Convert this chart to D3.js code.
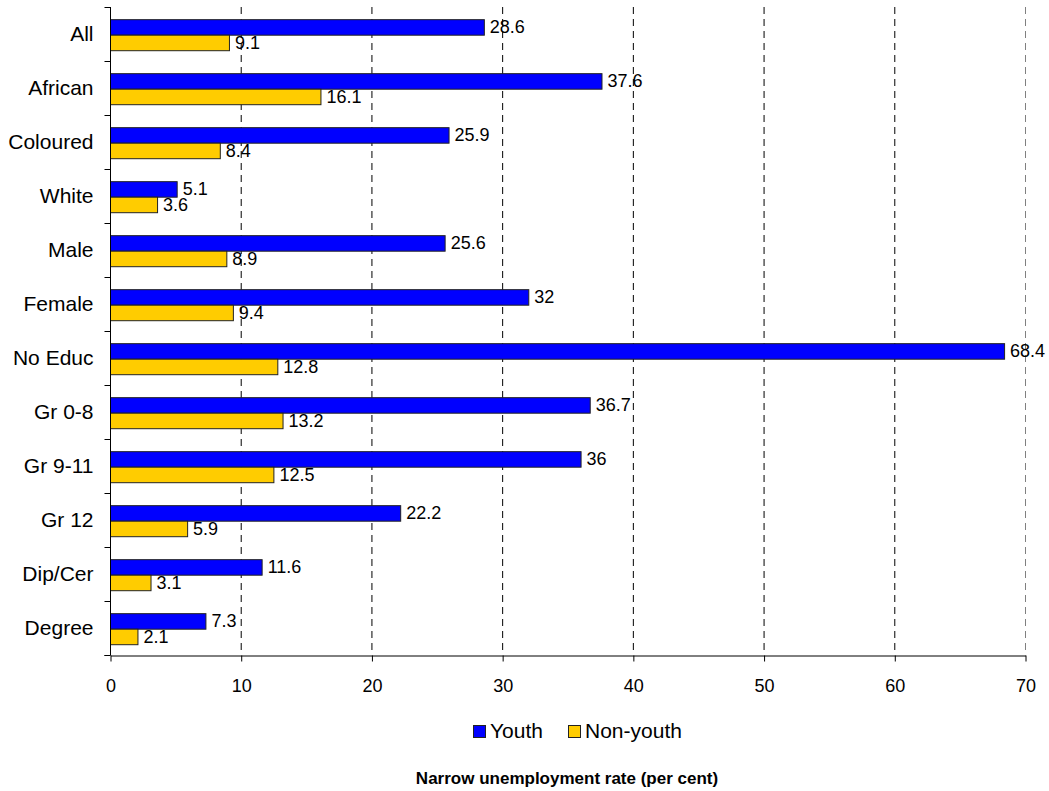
<!DOCTYPE html>
<html>
<head>
<meta charset="utf-8">
<script src="https://cdn.jsdelivr.net/npm/d3@7"></script>
<style>
  html, body { margin: 0; padding: 0; background: #fff; }
  svg { display: block; font-family: Arial, "Liberation Sans", sans-serif; }
</style>
</head>
<body>
<svg id="chart" width="1049" height="791"></svg>
<script>
// Narrow unemployment rate by group, youth vs non-youth
const categories = ["All", "African", "Coloured", "White", "Male", "Female",
  "No Educ", "Gr 0-8", "Gr 9-11", "Gr 12", "Dip/Cer", "Degree"];
const youth    = [28.6, 37.6, 25.9, 5.1, 25.6, 32, 68.4, 36.7, 36, 22.2, 11.6, 7.3];
const nonYouth = [9.1, 16.1, 8.4, 3.6, 8.9, 9.4, 12.8, 13.2, 12.5, 5.9, 3.1, 2.1];
const seriesNames = ["Youth", "Non-youth"];
const seriesColors = ["#0000FF", "#FFCC00"];
const xTicks = [0, 10, 20, 30, 40, 50, 60, 70];
const axisTitle = "Narrow unemployment rate (per cent)";

const svg = d3.select("#chart");
const plotLeft = 110, plotRight = 1025, plotTop = 7, plotBottom = 655;

const x = d3.scaleLinear().domain([0, 70]).range([plotLeft, plotRight]);
const y = d3.scaleBand().domain(categories).range([plotTop, plotBottom]).paddingInner(0).paddingOuter(0);
const sub = d3.scaleBand().domain(seriesNames).range([0, y.bandwidth()])
  .paddingInner(0).paddingOuter(0.74).align(0.53);

// vertical dashed gridlines
svg.append("g").selectAll("line").data(xTicks.filter(d => d > 0)).join("line")
  .attr("x1", d => x(d) + 0.5).attr("x2", d => x(d) + 0.5)
  .attr("y1", plotTop).attr("y2", plotBottom)
  .attr("stroke", d => d === 70 ? "#808080" : "#000")
  .attr("stroke-width", 1)
  .attr("stroke-dasharray", "7,5");

// bars
const rows = categories.map((c, i) => ({ c, vals: [youth[i], nonYouth[i]] }));
const groups = svg.append("g").selectAll("g").data(rows).join("g")
  .attr("transform", d => `translate(0,${y(d.c)})`);

groups.selectAll("rect").data(d => d.vals.map((v, j) => ({ v, s: seriesNames[j], j }))).join("rect")
  .attr("x", x(0) + 0.5)
  .attr("y", d => sub(d.s) + 0.5)
  .attr("width", d => x(d.v) - x(0))
  .attr("height", sub.bandwidth())
  .attr("fill", d => seriesColors[d.j])
  .attr("stroke", "#222")
  .attr("stroke-width", 1);

// value labels
groups.selectAll("text").data(d => d.vals.map((v, j) => ({ v, s: seriesNames[j], j }))).join("text")
  .attr("x", d => x(d.v) + 6)
  .attr("y", d => sub(d.s) + sub.bandwidth() / 2)
  .attr("dy", "0.35em")
  .attr("font-size", 18)
  .attr("fill", "#000")
  .text(d => d.v);

// y axis
const yAxis = svg.append("g").attr("transform", `translate(${plotLeft + 0.5},0)`);
yAxis.append("line").attr("y1", plotTop).attr("y2", plotBottom).attr("stroke", "#000");
yAxis.selectAll(".tk").data(d3.range(categories.length + 1)).join("line")
  .attr("x1", -6).attr("x2", 0)
  .attr("y1", i => plotTop + i * y.step() + 0.5).attr("y2", i => plotTop + i * y.step() + 0.5)
  .attr("stroke", "#000");
yAxis.selectAll("text").data(categories).join("text")
  .attr("x", -17)
  .attr("y", d => y(d) + y.bandwidth() / 2)
  .attr("dy", "0.33em")
  .attr("text-anchor", "end")
  .attr("font-size", 21)
  .text(d => d);

// x axis
const xAxis = svg.append("g").attr("transform", `translate(0.5,${plotBottom + 0.5})`)
  .call(d3.axisBottom(x).tickValues(xTicks).tickSize(6).tickSizeOuter(0).tickPadding(10));
xAxis.select(".domain").attr("stroke", "#000");
xAxis.selectAll(".tick line").attr("stroke", "#000");
xAxis.selectAll(".tick text")
  .attr("font-size", 18).attr("font-family", "Arial, 'Liberation Sans', sans-serif").attr("fill", "#000")
  .attr("y", 36).attr("dy", null);
// short stub of the axis line left of zero
xAxis.append("line").attr("x1", x(0) - 6).attr("x2", x(0)).attr("stroke", "#000");

// legend
const legend = svg.append("g").attr("transform", "translate(473,731)");
const legX = [0, 95];
seriesNames.forEach((name, j) => {
  const g = legend.append("g").attr("transform", `translate(${legX[j]},0)`);
  g.append("rect").attr("x", 0.5).attr("y", -5.5).attr("width", 12).attr("height", 12)
    .attr("fill", seriesColors[j]).attr("stroke", "#222");
  g.append("text").attr("x", 17).attr("y", 0).attr("dy", "0.35em")
    .attr("font-size", 21).text(name);
});

// axis title
svg.append("text").attr("x", 567).attr("y", 784)
  .attr("text-anchor", "middle")
  .attr("font-size", 17).attr("font-weight", "bold")
  .text(axisTitle);
</script>
</body>
</html>
